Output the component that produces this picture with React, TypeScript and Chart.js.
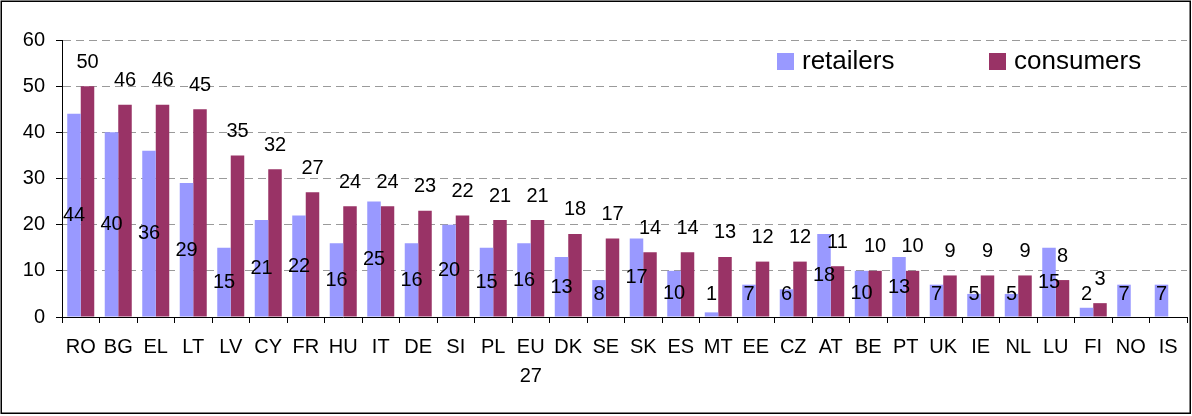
import React, { useEffect, useRef } from "react";
import { Chart, registerables } from "chart.js";

Chart.register(...registerables);

const categories: (string | string[])[] = [
  "RO", "BG", "EL", "LT", "LV", "CY", "FR", "HU", "IT", "DE", "SI", "PL", ["EU", "27"],
  "DK", "SE", "SK", "ES", "MT", "EE", "CZ", "AT", "BE", "PT", "UK", "IE", "NL", "LU", "FI", "NO", "IS",
];
const retailers: (number | null)[] = [
  44, 40, 36, 29, 15, 21, 22, 16, 25, 16, 20, 15, 16, 13, 8, 17, 10, 1, 7, 6, 18, 10, 13, 7, 5, 5, 15, 2, 7, 7,
];
const consumers: (number | null)[] = [
  50, 46, 46, 45, 35, 32, 27, 24, 24, 23, 22, 21, 21, 18, 17, 14, 14, 13, 12, 12, 11, 10, 10, 9, 9, 9, 8, 3, null, null,
];
const seriesNames = ["retailers", "consumers"];
const yTicks = [0, 10, 20, 30, 40, 50, 60];

const FONT = "'Liberation Sans', Arial, Helvetica, sans-serif";
const RETAIL_COLOR = "#9999FF";
const CONSUMER_COLOR = "#993366";

const valueLabels = {
  id: "valueLabels",
  afterDatasetsDraw(chart: any) {
    const ctx = chart.ctx;
    const base = chart.scales.y.getPixelForValue(0);
    ctx.save();
    ctx.font = `20px ${FONT}`;
    ctx.fillStyle = "#000";
    ctx.textAlign = "center";
    ctx.textBaseline = "middle";
    chart.data.datasets.forEach((ds: any, di: number) => {
      const meta = chart.getDatasetMeta(di);
      meta.data.forEach((el: any, i: number) => {
        const v = ds.data[i];
        if (v == null) return;
        let y: number;
        if (di === 0) y = Math.min((el.y + base) / 2, base - 23);
        else y = el.y - 24;
        ctx.fillText(String(v), el.x, y);
      });
    });
    ctx.restore();
  },
};

const customLegend = {
  id: "customLegend",
  afterDraw(chart: any) {
    const ctx = chart.ctx;
    ctx.save();
    ctx.font = `26px ${FONT}`;
    ctx.textBaseline = "middle";
    ctx.textAlign = "left";
    const starts = [777, 989];
    const cy = 62;
    chart.data.datasets.forEach((ds: any, i: number) => {
      const x = starts[i];
      ctx.fillStyle = ds.backgroundColor;
      ctx.fillRect(x, cy - 9, 17, 17);
      ctx.fillStyle = "#000";
      ctx.fillText(ds.label, x + 25, cy);
    });
    // outer frame
    ctx.strokeStyle = "#000";
    ctx.lineWidth = 1.5;
    ctx.strokeRect(1.25, 1.25, chart.width - 3, chart.height - 4);
    ctx.restore();
  },
};

export default function App() {
  const ref = useRef<HTMLCanvasElement>(null);
  useEffect(() => {
    document.body.style.margin = "0";
    const chart = new Chart(ref.current as HTMLCanvasElement, {
      type: "bar",
      data: {
        labels: categories as any,
        datasets: [
          {
            label: seriesNames[0],
            data: retailers,
            backgroundColor: RETAIL_COLOR,
            categoryPercentage: 0.72,
            barPercentage: 1,
          },
          {
            label: seriesNames[1],
            data: consumers,
            backgroundColor: CONSUMER_COLOR,
            categoryPercentage: 0.72,
            barPercentage: 1,
          },
        ],
      },
      options: {
        responsive: false,
        animation: false,
        devicePixelRatio: 1,
        layout: { padding: { top: 40, right: 5, left: 0, bottom: 0 } },
        plugins: {
          legend: { display: false },
          tooltip: { enabled: false },
        },
        scales: {
          x: {
            grid: {
              offset: true,
              drawOnChartArea: false,
              drawTicks: true,
              tickLength: 6,
              tickColor: "#000",
            },
            border: { display: true, color: "#000", width: 1 },
            ticks: {
              color: "#000",
              font: { family: FONT, size: 20, lineHeight: 1.45 },
              padding: 10,
              maxRotation: 0,
              minRotation: 0,
              autoSkip: false,
            },
            afterFit: (s: any) => {
              s.height = 99;
            },
          },
          y: {
            min: 0,
            max: 60,
            afterBuildTicks: (s: any) => {
              s.ticks = yTicks.map((v) => ({ value: v }));
            },
            grid: {
              color: (c: any) => (c.tick && c.tick.value === 0 ? "rgba(0,0,0,0)" : "#9a9a9a"),
              lineWidth: 1,
              tickLength: 6,
              tickColor: "#000",
            },
            border: { display: true, color: "#000", width: 1, dash: [8, 5] },
            ticks: {
              color: "#000",
              font: { family: FONT, size: 20 },
              padding: 11,
            },
            afterFit: (s: any) => {
              s.width = 62;
            },
          },
        },
      },
      plugins: [valueLabels, customLegend],
    });
    return () => chart.destroy();
  }, []);
  return (
    <div style={{ width: 1192, height: 416 }}>
      <canvas ref={ref} width={1192} height={416} style={{ display: "block" }} />
    </div>
  );
}
